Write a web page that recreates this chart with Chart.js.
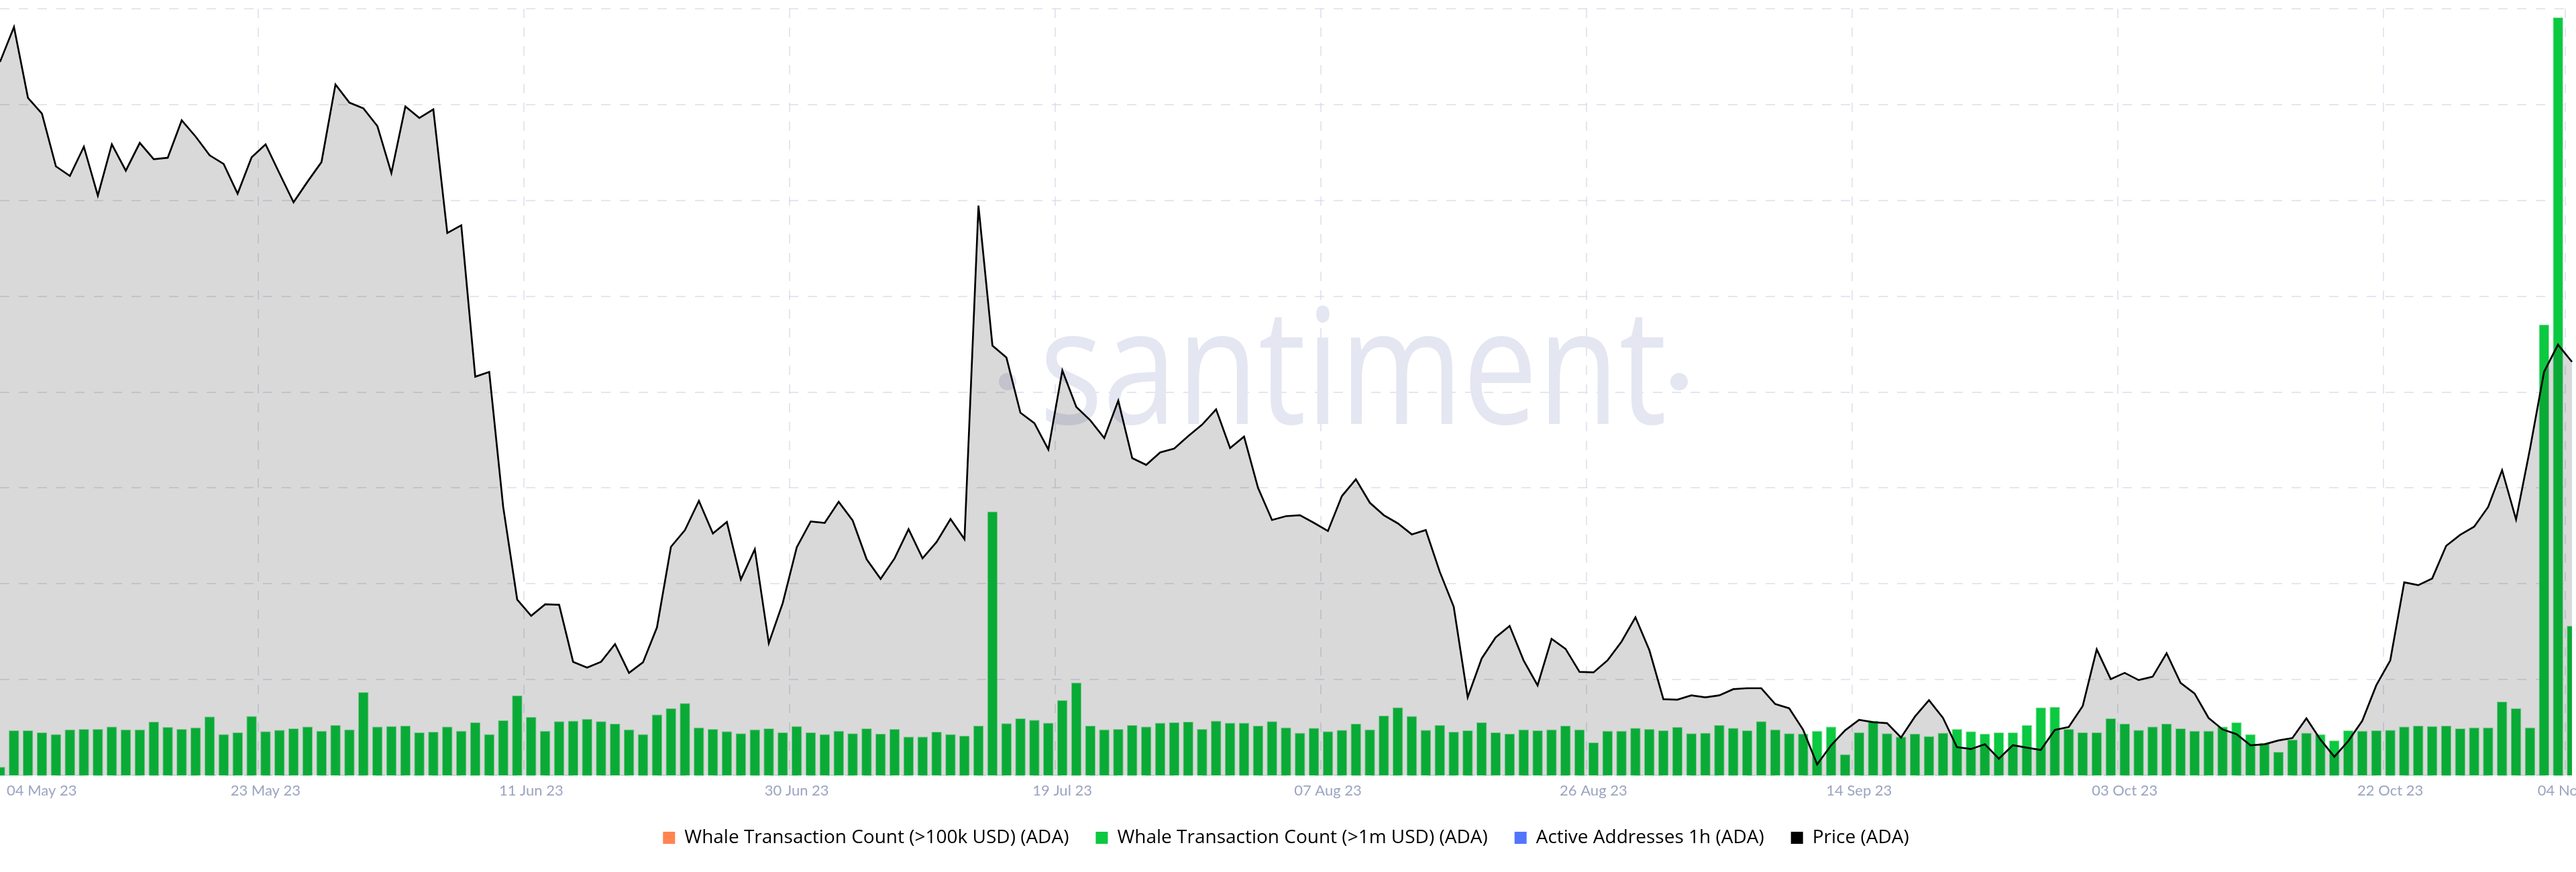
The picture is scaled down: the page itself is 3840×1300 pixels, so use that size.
<!DOCTYPE html>
<html>
<head>
<meta charset="utf-8">
<title>ADA whale transactions vs price</title>
<script src="https://cdn.jsdelivr.net/npm/chart.js@4.4.0/dist/chart.umd.min.js"></script>
<style>
  html, body { margin: 0; padding: 0; background: #fff; overflow: hidden; }
  #wrap { width: 3840px; height: 1300px; }
</style>
</head>
<body>
<div id="wrap"><canvas id="myChart" width="3840" height="1300"></canvas></div>
<script>
// daily data, 04 May 23 -> 04 Nov 23
const startDay = new Date(2023, 4, 4);
const monthNames = ['Jan', 'Feb', 'Mar', 'Apr', 'May', 'Jun', 'Jul', 'Aug', 'Sep', 'Oct', 'Nov', 'Dec'];

const tickLabels = ['04 May 23', '23 May 23', '11 Jun 23', '30 Jun 23', '19 Jul 23', '07 Aug 23',
    '26 Aug 23', '14 Sep 23', '03 Oct 23', '22 Oct 23', '04 Nov 23'];

const seriesNames = [
    'Whale Transaction Count (>100k USD) (ADA)',
    'Whale Transaction Count (>1m USD) (ADA)',
    'Active Addresses 1h (ADA)',
    'Price (ADA)'
];
const seriesColors = ['#ff8450', '#0bc940', '#5275ff', '#000000'];

// not shown in this view, legend only
const whale100kCounts = [];
const activeAddresses1h = [];

const whale1mCounts = [
    18, 94, 94, 90, 86, 96, 97, 97, 102, 96,
    96, 112, 101, 97, 100, 123, 86, 90, 124, 92,
    95, 98, 102, 93, 105, 96, 174, 102, 103, 104,
    90, 91, 102, 93, 111, 86, 115, 167, 122, 93,
    113, 114, 118, 113, 108, 96, 86, 127, 140, 151,
    100, 97, 92, 88, 96, 98, 90, 103, 90, 86,
    93, 88, 98, 87, 97, 81, 81, 91, 86, 83,
    104, 551, 109, 119, 116, 110, 157, 194, 104, 96,
    97, 105, 102, 110, 111, 112, 97, 114, 110, 110,
    104, 113, 100, 89, 99, 92, 95, 108, 96, 125,
    142, 124, 95, 105, 91, 94, 111, 90, 87, 96,
    94, 96, 104, 96, 69, 93, 93, 99, 97, 94,
    101, 88, 89, 105, 99, 94, 113, 96, 88, 87,
    93, 102, 44, 90, 114, 88, 81, 87, 82, 89,
    97, 92, 87, 90, 90, 105, 142, 143, 97, 90,
    90, 119, 108, 95, 102, 108, 98, 93, 93, 102,
    111, 86, 68, 49, 75, 89, 86, 73, 94, 93,
    94, 95, 102, 104, 103, 104, 98, 100, 100, 154,
    140, 100, 941, 1582, 312
];

const priceAda = [
    0.3689, 0.3762, 0.3614, 0.3581, 0.3471, 0.3451, 0.3512, 0.3410, 0.3517, 0.3462,
    0.3520, 0.3486, 0.3489, 0.3567, 0.3533, 0.3494, 0.3476, 0.3414, 0.3490, 0.3517,
    0.3456, 0.3396, 0.3439, 0.3480, 0.3642, 0.3604, 0.3592, 0.3555, 0.3457, 0.3596,
    0.3572, 0.3590, 0.3332, 0.3348, 0.3032, 0.3042, 0.2760, 0.2567, 0.2533, 0.2557,
    0.2556, 0.2437, 0.2425, 0.2437, 0.2474, 0.2414, 0.2436, 0.2509, 0.2677, 0.2712,
    0.2773, 0.2705, 0.2729, 0.2609, 0.2672, 0.2476, 0.2560, 0.2676, 0.2730, 0.2727,
    0.2771, 0.2732, 0.2651, 0.2610, 0.2653, 0.2714, 0.2653, 0.2687, 0.2735, 0.2693,
    0.3389, 0.3097, 0.3072, 0.2957, 0.2935, 0.2880, 0.3045, 0.2969, 0.2941, 0.2904,
    0.2982, 0.2862, 0.2848, 0.2874, 0.2882, 0.2908, 0.2932, 0.2964, 0.2883, 0.2907,
    0.2800, 0.2733, 0.2741, 0.2743, 0.2727, 0.2710, 0.2783, 0.2818, 0.2769, 0.2743,
    0.2726, 0.2703, 0.2712, 0.2625, 0.2552, 0.2363, 0.2444, 0.2488, 0.2512, 0.2440,
    0.2388, 0.2485, 0.2464, 0.2416, 0.2415, 0.2440, 0.2479, 0.2530, 0.2461, 0.2359,
    0.2358, 0.2367, 0.2363, 0.2367, 0.2380, 0.2382, 0.2382, 0.2349, 0.2340, 0.2295,
    0.2223, 0.2263, 0.2294, 0.2316, 0.2311, 0.2309, 0.2279, 0.2323, 0.2357, 0.2320,
    0.2259, 0.2255, 0.2265, 0.2235, 0.2263, 0.2258, 0.2253, 0.2295, 0.2301, 0.2345,
    0.2463, 0.2401, 0.2414, 0.2399, 0.2406, 0.2455, 0.2393, 0.2371, 0.2320, 0.2296,
    0.2286, 0.2263, 0.2265, 0.2273, 0.2278, 0.2319, 0.2275, 0.2239, 0.2272, 0.2314,
    0.2388, 0.2440, 0.2603, 0.2597, 0.2611, 0.2679, 0.2702, 0.2719, 0.2760, 0.2837,
    0.2734, 0.2882, 0.3042, 0.3099, 0.3063
];

const dayLabels = [];
for (let i = 0; i < priceAda.length; i++) {
    const d = new Date(startDay.getFullYear(), startDay.getMonth(), startDay.getDate() + i);
    dayLabels.push(String(d.getDate()).padStart(2, '0') + ' ' + monthNames[d.getMonth()] + ' ' +
        String(d.getFullYear()).slice(2));
}
const tickIndexes = new Set(tickLabels.map(t => dayLabels.indexOf(t)));

const gridColor = 'rgba(205, 210, 230, 0.55)';

// faint brand mark behind the data
const watermark = {
    id: 'watermark',
    beforeDatasetsDraw(chart) {
        const ctx = chart.ctx;
        ctx.save();
        ctx.fillStyle = '#e4e6f1';
        ctx.font = '240px "Open Sans"';
        ctx.textAlign = 'center';
        ctx.textBaseline = 'alphabetic';
        const w = ctx.measureText('santiment').width;
        ctx.translate(2017, 632);
        ctx.scale(935 / w, 1);
        ctx.fillText('santiment', 0, 0);
        ctx.restore();

        ctx.save();
        ctx.fillStyle = '#e4e6f1';
        [1502, 2503].forEach(cx => {
            ctx.beginPath();
            ctx.arc(cx, 569, 13, 0, Math.PI * 2);
            ctx.fill();
        });
        ctx.restore();
    }
};

// date labels under the axis; first one is pushed inside the canvas
const dateTicks = {
    id: 'dateTicks',
    afterDraw(chart) {
        const xs = chart.scales.x;
        const ctx = chart.ctx;
        ctx.save();
        ctx.font = '22px Lato';
        ctx.fillStyle = '#9ba4c0';
        ctx.textAlign = 'center';
        ctx.textBaseline = 'alphabetic';
        tickLabels.forEach(t => {
            const w = ctx.measureText(t).width;
            let px = xs.getPixelForValue(dayLabels.indexOf(t));
            if (px - w / 2 < 10) px = 10 + w / 2;
            ctx.fillText(t, px, xs.top + 30);
        });
        ctx.restore();
    }
};

const ctx = document.getElementById('myChart').getContext('2d');

new Chart(ctx, {
    type: 'bar',
    data: {
        labels: dayLabels,
        datasets: [
            {
                type: 'line',
                label: seriesNames[0],
                data: whale100kCounts,
                yAxisID: 'yBars',
                borderColor: seriesColors[0],
                pointRadius: 0
            },
            {
                type: 'bar',
                label: seriesNames[1],
                data: whale1mCounts,
                yAxisID: 'yBars',
                backgroundColor: seriesColors[1],
                borderColor: 'rgba(140, 225, 160, 0.9)',
                borderWidth: 1,
                barPercentage: 0.745,
                categoryPercentage: 1,
                order: 2
            },
            {
                type: 'line',
                label: seriesNames[2],
                data: activeAddresses1h,
                yAxisID: 'yBars',
                borderColor: seriesColors[2],
                pointRadius: 0
            },
            {
                type: 'line',
                label: seriesNames[3],
                data: priceAda,
                yAxisID: 'y',
                borderColor: seriesColors[3],
                borderWidth: 2.7,
                backgroundColor: 'rgba(0, 0, 0, 0.15)',
                fill: 'start',
                tension: 0,
                pointRadius: 0,
                order: 0
            }
        ]
    },
    options: {
        responsive: false,
        animation: false,
        devicePixelRatio: 1,
        layout: { padding: { top: 13, right: 6, bottom: 27, left: 0 } },
        plugins: {
            tooltip: { enabled: false },
            legend: {
                position: 'bottom',
                onClick: null,
                labels: {
                    boxWidth: 18,
                    boxHeight: 18,
                    padding: 40,
                    color: '#1e2132',
                    font: { family: '"Open Sans"', size: 28 },
                    generateLabels: () => seriesNames.map((name, i) => ({
                        text: name,
                        fillStyle: seriesColors[i],
                        strokeStyle: seriesColors[i],
                        lineWidth: 0,
                        hidden: false,
                        datasetIndex: i
                    }))
                }
            }
        },
        scales: {
            x: {
                type: 'category',
                offset: false,
                ticks: { display: false, autoSkip: false },
                grid: {
                    color: (c) => tickIndexes.has(c.index) ? gridColor : 'transparent',
                    lineWidth: 2,
                    drawTicks: false
                },
                border: { display: false, dash: [14, 14] },
                afterFit: (s) => { s.height = 39; }
            },
            y: {
                type: 'linear',
                position: 'left',
                min: 0.22,
                max: 0.38,
                ticks: { display: false, stepSize: 0.02 },
                grid: { color: gridColor, lineWidth: 2, drawTicks: false },
                border: { display: false, dash: [14, 14] },
                afterFit: (s) => { s.width = 0; }
            },
            yBars: {
                type: 'linear',
                display: false,
                min: 0,
                max: 1600
            }
        }
    },
    plugins: [watermark, dateTicks]
});
</script>
</body>
</html>
